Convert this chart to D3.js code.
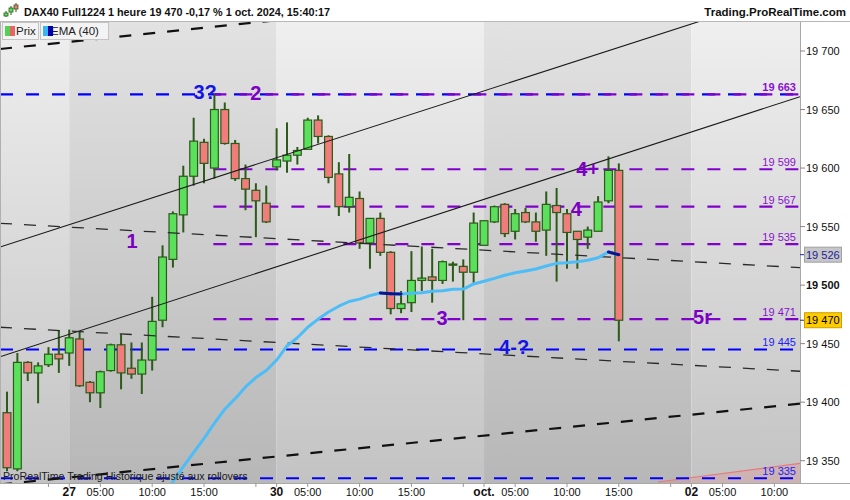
<!DOCTYPE html>
<html><head><meta charset="utf-8">
<script src="https://cdn.jsdelivr.net/npm/d3@7"></script>
<style>
html,body{margin:0;padding:0;background:#fff;}
svg{display:block;font-family:"Liberation Sans",Arial,sans-serif;}
</style></head><body>
<svg id="c" width="850" height="500"></svg>
<script>
// ---------------- DATA ----------------
const opens  = [19391,19343,19434,19425,19432,19441,19442,19454,19417,19408,19427,19449,19429,19424,19436,19470,19522,19560,19593,19622,19600,19650,19621,19591,19581,19570,19601,19606,19611,19616,19641,19627,19595,19567,19574,19536,19557,19528,19480,19485,19504,19507,19504,19517,19516,19511,19534,19554,19569,19546,19562,19554,19547,19568,19561,19546,19541,19546,19572,19598];
const highs  = [19409,19442,19435,19434,19447,19461,19462,19460,19418,19427,19450,19458,19451,19451,19490,19534,19563,19602,19643,19625,19663,19656,19624,19603,19587,19585,19634,19639,19618,19643,19645,19628,19605,19612,19580,19557,19562,19529,19495,19529,19533,19531,19521,19520,19522,19562,19555,19568,19570,19565,19566,19562,19580,19583,19565,19546,19550,19576,19610,19604];
const lows   = [19341,19341,19418,19399,19430,19425,19431,19413,19400,19395,19426,19411,19420,19407,19427,19464,19515,19545,19585,19587,19591,19620,19589,19564,19541,19553,19598,19596,19603,19616,19621,19587,19559,19562,19531,19514,19525,19475,19476,19477,19495,19485,19501,19503,19470,19502,19534,19553,19541,19539,19553,19537,19525,19503,19514,19514,19531,19546,19570,19452];
const closes = [19344,19434,19425,19431,19441,19437,19455,19414,19408,19426,19449,19425,19424,19436,19469,19524,19561,19593,19623,19604,19650,19621,19591,19582,19572,19554,19607,19611,19615,19641,19627,19592,19567,19575,19536,19557,19528,19480,19484,19504,19506,19504,19520,19518,19511,19553,19555,19567,19544,19561,19554,19546,19569,19562,19545,19539,19547,19571,19598,19470];
const emaStartBar = 15;
const emaValues = [19318,19332,19345,19357,19369,19382,19394,19403,19413,19421,19427,19436,19448,19455,19464,19471,19477,19482,19486,19488,19491,19493.3,19492.7,19492.4,19493,19493.5,19494.7,19495.2,19496.4,19496.6,19501,19503.3,19505.8,19508.4,19510.6,19512.1,19513.8,19516.3,19518.6,19519.2,19520,19521.2,19523.4,19528.3,19526];

const yTicks = [19350,19400,19450,19500,19550,19600,19650,19700];
const xTickBars   = [6,9,14,19,26,29,34,39,46,49,54,59,66,69,74];
const xTickLabels = ["27","05:00","10:00","15:00","30","05:00","10:00","15:00","oct.","05:00","10:00","15:00","02","05:00","10:00"];
const xDayLabels  = ["27","30","oct.","02"];
const xMinorBars  = [4,6,9,14,19,24,26,29,34,39,44,46,49,54,59,64,66,69,74];
const dayStartBars = [6,26,46,66];

const purpleLevels = [19663,19599,19567,19535,19471];
const purpleStartBar = 19.9;
const blueLevels = [19663,19445,19335];

// trend lines: [bar0, price0, bar1, price1]
const solidLines  = [[-0.675,19532.6,76.47,19753.0],[-0.675,19438.8,76.47,19661.0]];
const thinDashed  = [[-0.675,19552.8,76.47,19514.9],[-0.675,19464.0,76.47,19426.4]];
const thickDashed = [[-0.675,19701.7,28.3,19728.4],[-0.675,19329.7,76.47,19398.7]];
const redLine     = [62.77,19331.8,76.47,19347.8];

const waveTexts  = ["3?","2","1","3","4","4+","4-?","5r"];
const waveBars   = [19.1,24.0,12.05,41.95,54.9,56.0,48.9,67.07];
const wavePrices = [19659,19658,19531.7,19465.9,19559,19593,19441,19466.8];
const waveBlue   = [true,false,false,false,false,false,true,false];

const lastPrice = 19470, lastEma = 19526;
const titleText = "DAX40 Full1224 1 heure 19 470 -0,17 % 1 oct. 2024, 15:40:17";

// ---------------- CHART ----------------
const svg = d3.select("#c");
const P = {l:0, t:22, r:800, b:483};
const x = d3.scaleLinear().domain([-0.675,76.47]).range([0,800]);
const y = d3.scaleLinear().domain([19350,19700]).range([460.7,51]);
const loc = d3.formatLocale({decimal:",",thousands:" ",grouping:[3],currency:["",""]});
const fmt = loc.format(",");

const defs = svg.append("defs");
function grad(id,c1,c2){
  const g = defs.append("linearGradient").attr("id",id).attr("gradientUnits","userSpaceOnUse")
    .attr("x1",0).attr("y1",P.t).attr("x2",0).attr("y2",P.b);
  g.append("stop").attr("offset",0).attr("stop-color",c1);
  g.append("stop").attr("offset",1).attr("stop-color",c2);
}
grad("gl","#efefef","#c3c3c3");
grad("gd","#e2e2e2","#b7b7b7");
defs.append("clipPath").attr("id","clip").append("rect")
  .attr("x",P.l).attr("y",P.t).attr("width",P.r-P.l).attr("height",P.b-P.t);

svg.append("rect").attr("width",850).attr("height",500).attr("fill","#fff");

const plot = svg.append("g").attr("clip-path","url(#clip)");
const edges = [x.domain()[0], ...dayStartBars, x.domain()[1]];
for (let i=0;i<edges.length-1;i++){
  plot.append("rect").attr("x",x(edges[i])).attr("y",P.t)
    .attr("width",x(edges[i+1])-x(edges[i])).attr("height",P.b-P.t)
    .attr("fill", i%2===0 ? "url(#gl)" : "url(#gd)");
}

// red line + fill
plot.append("path")
  .attr("d",`M${x(redLine[0])},${y(redLine[1])}L${x(redLine[2])},${y(redLine[3])}L${x(redLine[2])},${P.b}L${x(redLine[0])},${P.b}Z`)
  .attr("fill","rgba(235,120,120,0.22)");
plot.append("line").attr("x1",x(redLine[0])).attr("y1",y(redLine[1]))
  .attr("x2",x(redLine[2])).attr("y2",y(redLine[3])).attr("stroke","#e97a7a").attr("stroke-width",1.2);

// horizontal levels
blueLevels.forEach(v=>{
  plot.append("line").attr("x1",P.l).attr("x2",P.r).attr("y1",y(v)).attr("y2",y(v))
    .attr("stroke","#0000ff").attr("stroke-width",2.2).attr("stroke-dasharray","13,13");
});
purpleLevels.forEach(v=>{
  plot.append("line").attr("x1",x(purpleStartBar)).attr("x2",P.r).attr("y1",y(v)).attr("y2",y(v))
    .attr("stroke","#8000cc").attr("stroke-width",2.2).attr("stroke-dasharray","13,13");
});

// candles
const cg = plot.append("g");
opens.forEach((o,i)=>{
  const c = closes[i], up = c>=o;
  const cx = x(i);
  cg.append("line").attr("x1",cx).attr("x2",cx).attr("y1",y(highs[i])).attr("y2",y(lows[i]))
    .attr("stroke","#2c5a18").attr("stroke-width",2);
  const top = y(Math.max(o,c)), bot = y(Math.min(o,c));
  cg.append("rect").attr("x",cx-3.9).attr("y",top).attr("width",7.8).attr("height",Math.max(1,bot-top))
    .attr("fill", up ? "#5be05b" : "#f07c7c").attr("stroke","#2c5a18").attr("stroke-width",1.2);
});

// trend lines
solidLines.forEach(l=>{
  plot.append("line").attr("x1",x(l[0])).attr("y1",y(l[1])).attr("x2",x(l[2])).attr("y2",y(l[3]))
    .attr("stroke","#1a1a1a").attr("stroke-width",1.1);
});
thinDashed.forEach(l=>{
  plot.append("line").attr("x1",x(l[0])).attr("y1",y(l[1])).attr("x2",x(l[2])).attr("y2",y(l[3]))
    .attr("stroke","#2a2a2a").attr("stroke-width",1.3).attr("stroke-dasharray","12,12");
});
thickDashed.forEach(l=>{
  plot.append("line").attr("x1",x(l[0])).attr("y1",y(l[1])).attr("x2",x(l[2])).attr("y2",y(l[3]))
    .attr("stroke","#111").attr("stroke-width",2.2).attr("stroke-dasharray","12,12");
});

// EMA
const emaPts = emaValues.map((v,i)=>[x(emaStartBar+i), y(v)]);
plot.append("path").attr("d",d3.line()(emaPts)).attr("fill","none")
  .attr("stroke","#4dbdf8").attr("stroke-width",3).attr("stroke-linejoin","round");
for (let i=1;i<emaValues.length;i++){
  if (emaValues[i] < emaValues[i-1]){
    plot.append("line").attr("x1",emaPts[i-1][0]).attr("y1",emaPts[i-1][1])
      .attr("x2",emaPts[i][0]).attr("y2",emaPts[i][1])
      .attr("stroke","#0a1490").attr("stroke-width",3).attr("stroke-linecap","round");
  }
}

// wave annotations
waveTexts.forEach((t,i)=>{
  plot.append("text").attr("x",x(waveBars[i])).attr("y",y(wavePrices[i]))
    .attr("text-anchor","middle").attr("font-size",20).attr("font-weight","bold")
    .attr("fill", waveBlue[i] ? "#1414e6" : "#7c00c4").text(t);
});

// inline level labels
purpleLevels.forEach(v=>{
  plot.append("text").attr("x",796).attr("y",y(v)-3).attr("text-anchor","end")
    .attr("font-size",11).attr("font-weight", v===19663 ? "bold":"normal")
    .attr("fill","#8a10d0").text(fmt(v));
});
blueLevels.filter(v=>v!==19663).forEach(v=>{
  plot.append("text").attr("x",796).attr("y",y(v)-3).attr("text-anchor","end")
    .attr("font-size",11).attr("fill","#2020ff").text(fmt(v));
});

// footer text
plot.append("text").attr("x",3).attr("y",480).attr("font-size",10.6).attr("fill","#1a1a1a")
  .text("ProRealTime Trading  Historique ajusté aux rollovers");

svg.append("line").attr("x1",0.5).attr("x2",0.5).attr("y1",P.t).attr("y2",P.b).attr("stroke","#b0b0b0");

// right axis
svg.append("line").attr("x1",800.5).attr("x2",800.5).attr("y1",P.t).attr("y2",P.b).attr("stroke","#a8a8a8");
yTicks.forEach(v=>{
  svg.append("line").attr("x1",800).attr("x2",805).attr("y1",y(v)).attr("y2",y(v)).attr("stroke","#888");
  svg.append("text").attr("x",806).attr("y",y(v)+4).attr("font-size",11)
    .attr("font-weight", v===19500 ? "bold":"normal").attr("fill","#111").text(fmt(v));
});
svg.append("line").attr("x1",800).attr("x2",804).attr("y1",y(lastEma)).attr("y2",y(lastEma)).attr("stroke","#2020c0");
svg.append("rect").attr("x",804.5).attr("y",y(lastEma)-7.5).attr("width",37).attr("height",15)
  .attr("fill","#c6c6c6").attr("stroke","#a0a0a0");
svg.append("text").attr("x",806).attr("y",y(lastEma)+4).attr("font-size",11).attr("fill","#1c1c9c").text(fmt(lastEma));
svg.append("line").attr("x1",800).attr("x2",804).attr("y1",y(lastPrice)).attr("y2",y(lastPrice)).attr("stroke","#333");
svg.append("rect").attr("x",804.5).attr("y",y(lastPrice)-7.5).attr("width",37).attr("height",15)
  .attr("fill","#ffcc00").attr("stroke","#c9a000");
svg.append("text").attr("x",806).attr("y",y(lastPrice)+4).attr("font-size",11).attr("fill","#000").text(fmt(lastPrice));

// bottom axis
svg.append("line").attr("x1",0).attr("x2",850).attr("y1",P.b+0.5).attr("y2",P.b+0.5).attr("stroke","#a8a8a8");
xMinorBars.forEach(b=>{
  svg.append("line").attr("x1",x(b)).attr("x2",x(b)).attr("y1",P.b).attr("y2",P.b+4).attr("stroke","#999");
});
xTickBars.forEach((b,i)=>{
  const lab = xTickLabels[i];
  svg.append("text").attr("x",x(b)).attr("y",496).attr("text-anchor","middle")
    .attr("font-size", xDayLabels.includes(lab) ? 12 : 11)
    .attr("font-weight", xDayLabels.includes(lab) ? "bold":"normal")
    .attr("fill","#111").text(lab);
});

// header
svg.append("line").attr("x1",0).attr("x2",850).attr("y1",21.5).attr("y2",21.5).attr("stroke","#b8b8b8");
const ic = svg.append("g");
[[6,11,17,13,16,true],[11,6,15,8,12,true],[16,3,12,5,9,false]].forEach(d=>{
  ic.append("line").attr("x1",d[0]).attr("x2",d[0]).attr("y1",d[1]).attr("y2",d[2]).attr("stroke","#2c5a18").attr("stroke-width",1);
  ic.append("rect").attr("x",d[0]-2).attr("y",d[3]).attr("width",4).attr("height",d[4]-d[3])
    .attr("fill",d[5]?"#5be05b":"#f07c7c").attr("stroke","#2c5a18").attr("stroke-width",0.8);
});
svg.append("text").attr("x",24).attr("y",16).attr("font-size",10.8).attr("font-weight","bold")
  .attr("fill","#111").text(titleText);
svg.append("text").attr("x",846).attr("y",16).attr("text-anchor","end").attr("font-size",11.5)
  .attr("font-weight","bold").attr("fill","#111").text("Trading.ProRealTime.com");

// legend
const lg = svg.append("g");
lg.append("rect").attr("x",2.5).attr("y",22.5).attr("width",36).attr("height",17).attr("fill","#f3f3f3").attr("stroke","#c4c4c4");
lg.append("text").attr("x",16).attr("y",35).attr("font-size",11.5).attr("fill","#222").text("Prix");
lg.append("rect").attr("x",5).attr("y",26).attr("width",5).attr("height",10).attr("fill","#55d055");
lg.append("rect").attr("x",10).attr("y",26).attr("width",5).attr("height",10).attr("fill","#e86464");
lg.append("rect").attr("x",40.5).attr("y",22.5).attr("width",68).attr("height",17).attr("fill","#f3f3f3").attr("stroke","#c4c4c4");
lg.append("text").attr("x",51).attr("y",35).attr("font-size",11.5).attr("fill","#222").text("EMA (40)");
lg.append("rect").attr("x",43).attr("y",26).attr("width",5).attr("height",10).attr("fill","#3cb6f2");
lg.append("rect").attr("x",48).attr("y",26).attr("width",5).attr("height",10).attr("fill","#0000a8");
</script>
</body></html>
